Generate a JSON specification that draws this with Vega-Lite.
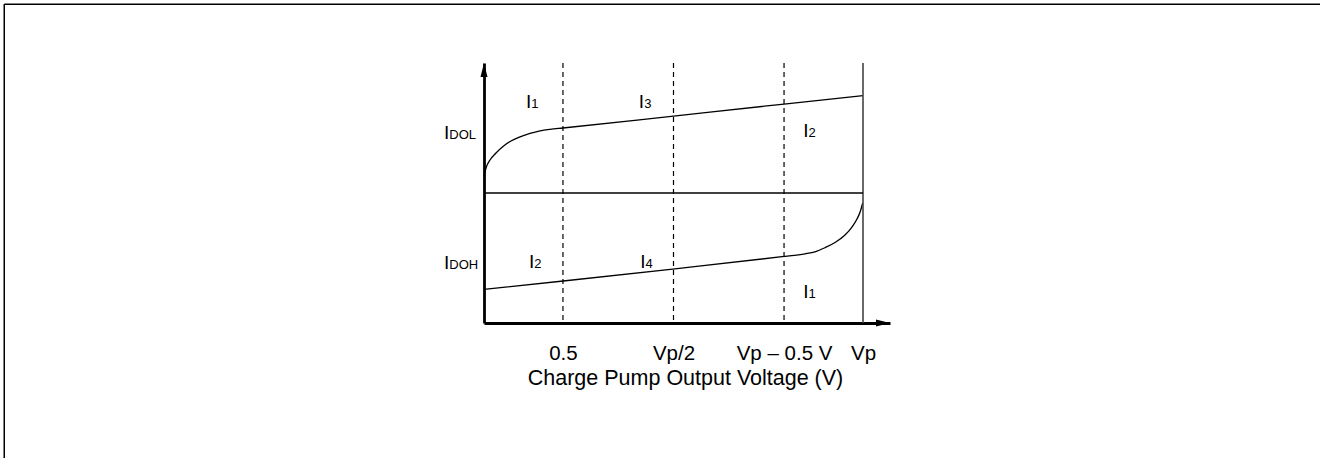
{
  "$schema": "https://vega.github.io/schema/vega-lite/v6.json",
  "autosize": {"type": "none"},
  "width": 406,
  "height": 260,
  "padding": {"left": 484, "top": 63, "right": 430, "bottom": 135},
  "background": "white",
  "config": {"view": {"stroke": null}, "font": "Liberation Sans"},
  "datasets": {
    "frame": [
      {"x": -3.038, "y": 1.4515, "x2": 5.307, "y2": 1.4515},
      {"x": -3.038, "y": 1.4515, "x2": -3.038, "y2": -2.054}
    ],
    "vlines": [{"x": 0.5}, {"x": 1.2}, {"x": 1.9}],
    "vp": [{"x": 2.4}],
    "zero": [{"x": 0, "x2": 2.4, "y": 0}],
    "curves": [
      {"series": "IDOL", "x": 0, "y": 0.127},
      {"series": "IDOL", "x": 0.0127, "y": 0.192},
      {"series": "IDOL", "x": 0.038, "y": 0.254},
      {"series": "IDOL", "x": 0.076, "y": 0.308},
      {"series": "IDOL", "x": 0.1203, "y": 0.358},
      {"series": "IDOL", "x": 0.171, "y": 0.4},
      {"series": "IDOL", "x": 0.228, "y": 0.431},
      {"series": "IDOL", "x": 0.2913, "y": 0.458},
      {"series": "IDOL", "x": 0.3546, "y": 0.478},
      {"series": "IDOL", "x": 0.4179, "y": 0.49},
      {"series": "IDOL", "x": 0.5, "y": 0.5},
      {"series": "IDOL", "x": 1.2, "y": 0.592},
      {"series": "IDOL", "x": 1.9, "y": 0.684},
      {"series": "IDOL", "x": 2.4, "y": 0.749},
      {"series": "IDOH", "x": 0, "y": -0.741},
      {"series": "IDOH", "x": 0.502, "y": -0.677},
      {"series": "IDOH", "x": 1.195, "y": -0.585},
      {"series": "IDOH", "x": 1.887, "y": -0.49},
      {"series": "IDOH", "x": 2.033, "y": -0.468},
      {"series": "IDOH", "x": 2.096, "y": -0.452},
      {"series": "IDOH", "x": 2.159, "y": -0.421},
      {"series": "IDOH", "x": 2.223, "y": -0.381},
      {"series": "IDOH", "x": 2.286, "y": -0.323},
      {"series": "IDOH", "x": 2.33, "y": -0.262},
      {"series": "IDOH", "x": 2.362, "y": -0.2},
      {"series": "IDOH", "x": 2.384, "y": -0.138},
      {"series": "IDOH", "x": 2.398, "y": -0.077}
    ],
    "arrows": [
      {"x": 2.571, "y": -1, "dir": "right"},
      {"x": 0, "y": 1, "dir": "up"}
    ],
    "labels": [
      {"x": 0.299, "y": 0.656, "main": "I", "sub": "1"},
      {"x": 1.014, "y": 0.656, "main": "I", "sub": "3"},
      {"x": 2.055, "y": 0.433, "main": "I", "sub": "2"},
      {"x": 0.318, "y": -0.575, "main": "I", "sub": "2"},
      {"x": 1.023, "y": -0.575, "main": "I", "sub": "4"},
      {"x": 2.055, "y": -0.81, "main": "I", "sub": "1"},
      {"x": -0.22, "y": 0.415, "main": "I", "sub": "DOL"},
      {"x": -0.22, "y": -0.585, "main": "I", "sub": "DOH"}
    ]
  },
  "layer": [
    {
      "data": {"name": "curves"},
      "mark": {"type": "line", "interpolate": "monotone", "color": "black", "strokeWidth": 1.3},
      "encoding": {
        "x": {
          "field": "x", "type": "quantitative",
          "scale": {"domain": [0, 2.571], "nice": false, "zero": false},
          "axis": {
            "values": [0.5, 1.2, 1.9, 2.4],
            "labelExpr": "datum.value == 0.5 ? '0.5' : datum.value == 1.2 ? 'Vp/2' : datum.value == 1.9 ? 'Vp – 0.5 V' : 'Vp'",
            "ticks": false, "tickSize": 0, "grid": false,
            "domainColor": "black", "domainWidth": 2.8,
            "labelFont": "Liberation Sans", "labelFontSize": 20.5, "labelColor": "black",
            "labelBaseline": "alphabetic", "labelPadding": 36,
            "labelFlush": false, "labelOverlap": false,
            "title": "Charge Pump Output Voltage (V)",
            "titleFont": "Liberation Sans", "titleFontSize": 21.5, "titleFontWeight": "normal",
            "titleColor": "black", "titleBaseline": "alphabetic",
            "titleX": 201, "titleY": 61, "titleAlign": "center"
          }
        },
        "y": {
          "field": "y", "type": "quantitative",
          "scale": {"domain": [-1, 1], "nice": false, "zero": false},
          "axis": {
            "labels": false, "ticks": false, "tickSize": 0, "grid": false, "title": null,
            "domainColor": "black", "domainWidth": 2.8
          }
        },
        "detail": {"field": "series"}
      }
    },
    {
      "data": {"name": "frame"},
      "mark": {"type": "rule", "color": "black", "strokeWidth": 1.5},
      "encoding": {
        "x": {"field": "x", "type": "quantitative"},
        "x2": {"field": "x2"},
        "y": {"field": "y", "type": "quantitative"},
        "y2": {"field": "y2"}
      }
    },
    {
      "data": {"name": "vlines"},
      "mark": {"type": "rule", "color": "black", "strokeWidth": 1.2, "strokeDash": [5, 4]},
      "encoding": {
        "x": {"field": "x", "type": "quantitative"}
      }
    },
    {
      "data": {"name": "vp"},
      "mark": {"type": "rule", "color": "#444444", "strokeWidth": 1.6},
      "encoding": {
        "x": {"field": "x", "type": "quantitative"}
      }
    },
    {
      "data": {"name": "zero"},
      "mark": {"type": "rule", "color": "black", "strokeWidth": 1.3},
      "encoding": {
        "x": {"field": "x", "type": "quantitative"},
        "x2": {"field": "x2"},
        "y": {"field": "y", "type": "quantitative"}
      }
    },
    {
      "data": {"name": "arrows"},
      "mark": {"type": "point", "filled": true, "color": "black", "size": 49, "opacity": 1, "strokeWidth": 0},
      "encoding": {
        "x": {"field": "x", "type": "quantitative"},
        "y": {"field": "y", "type": "quantitative"},
        "shape": {
          "field": "dir", "type": "nominal", "legend": null,
          "scale": {"domain": ["right", "up"], "range": ["M-4,-1L0,0L-4,1Z", "M-1,4L0,0L1,4Z"]}
        }
      }
    },
    {
      "data": {"name": "labels"},
      "mark": {"type": "text", "align": "right", "baseline": "alphabetic", "fontSize": 19, "font": "Liberation Sans", "color": "black"},
      "encoding": {
        "x": {"field": "x", "type": "quantitative"},
        "y": {"field": "y", "type": "quantitative"},
        "text": {"field": "main"}
      }
    },
    {
      "data": {"name": "labels"},
      "mark": {"type": "text", "align": "left", "baseline": "alphabetic", "fontSize": 13, "font": "Liberation Sans", "color": "black"},
      "encoding": {
        "x": {"field": "x", "type": "quantitative"},
        "y": {"field": "y", "type": "quantitative"},
        "text": {"field": "sub"}
      }
    }
  ]
}
